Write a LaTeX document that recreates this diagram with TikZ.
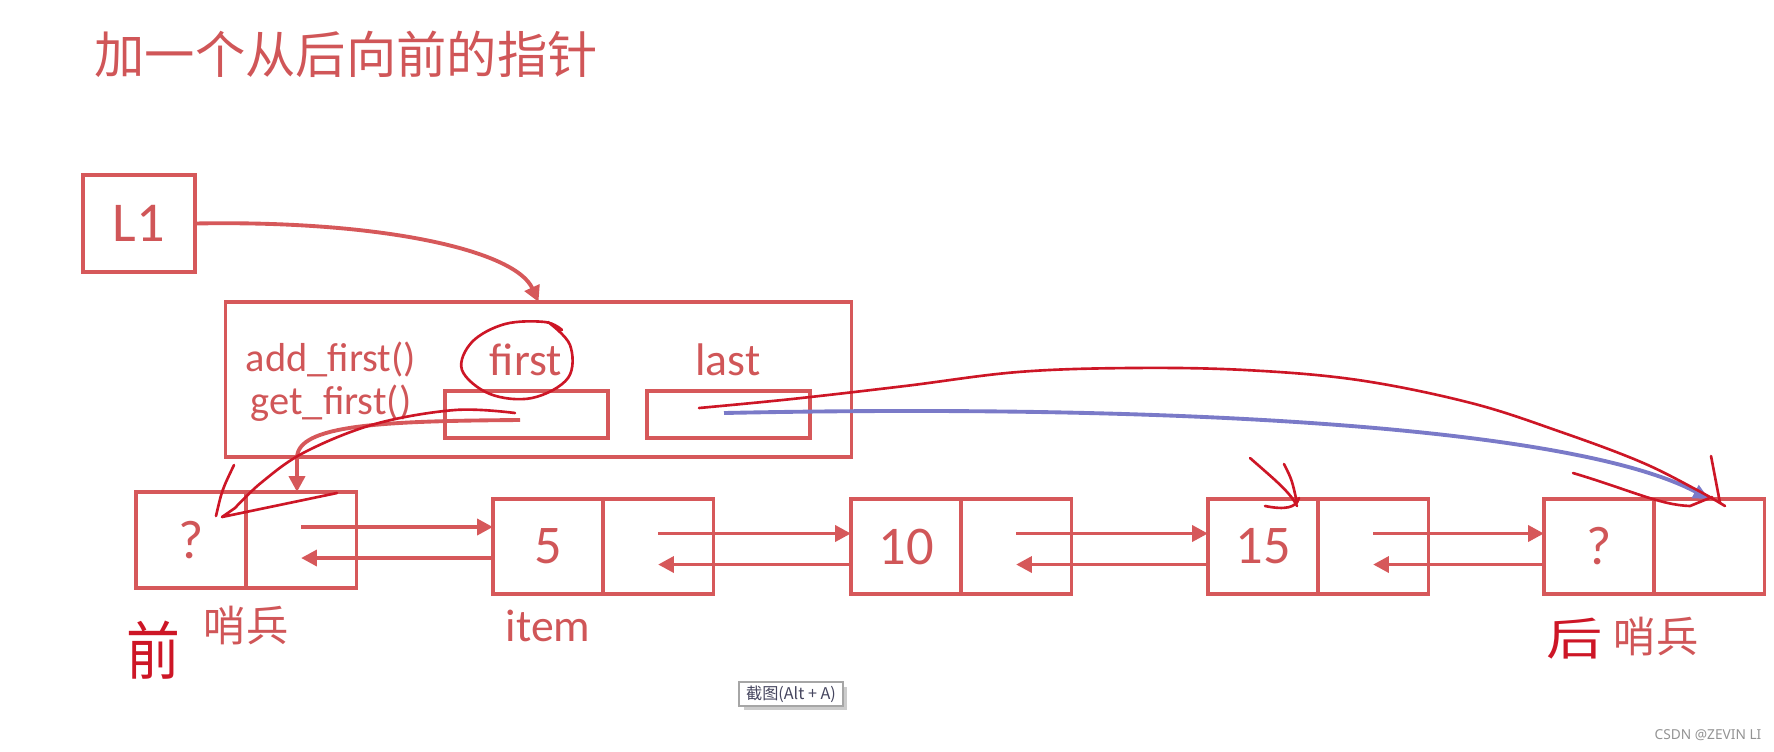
\documentclass[tikz,border=0pt]{standalone}
\usepackage{fontspec}
\setmainfont{Carlito}
\newfontfamily\cjk{Noto Sans CJK SC}
\newfontfamily\wmfont{Noto Sans}
\usetikzlibrary{arrows.meta}
\definecolor{boxred}{RGB}{214,88,90}
\definecolor{txtred}{RGB}{208,86,88}
\definecolor{handred}{RGB}{205,22,38}
\definecolor{handblue}{RGB}{122,122,200}
\begin{document}
\begin{tikzpicture}[x=0.01cm,y=-0.01cm,
  box/.style={draw=boxred,line width=0.9pt,inner sep=0pt,outer sep=0pt},
  cell/.style={box,minimum width=1.1cm,minimum height=0.95cm,text=txtred,font=\fontsize{15.5}{16}\selectfont},
  arr/.style={draw=boxred,line width=1.1pt,-{Triangle[length=4.5pt,width=4.5pt]}},
  hand/.style={draw=handred,line width=0.75pt,line cap=round,line join=round},
  bluearr/.style={draw=handblue,line width=1.1pt,-{Triangle[length=4.5pt,width=4pt]}},
  lbl/.style={text=txtred,inner sep=0pt}]
\useasboundingbox (0,0) rectangle (1774,751);
% title
\node[lbl,anchor=west,font=\cjk\fontsize{14.3}{15}\selectfont] (title) at (94,54) {加一个从后向前的指针};
% L1
\node[box,minimum width=1.12cm,minimum height=0.97cm,text=txtred,font=\fontsize{16}{17}\selectfont] (L1) at (139,223.5) {L1};
% big box
\node[box,minimum width=6.25cm,minimum height=1.55cm] (big) at (538.5,379.5) {};
\node[box,minimum width=1.63cm,minimum height=0.47cm] (fbox) at (526.5,414.5) {};
\node[box,minimum width=1.63cm,minimum height=0.47cm] (lbox) at (728.5,414.5) {};
\node[lbl,anchor=west,font=\fontsize{11.5}{12}\selectfont] (add) at (245,360) {add\_first()};
\node[lbl,anchor=west,font=\fontsize{11.5}{12}\selectfont] (get) at (250,403) {get\_first()};
\node[lbl,font=\fontsize{13}{14}\selectfont] (firstlbl) at (526,360) {first};
\node[lbl,font=\fontsize{13}{14}\selectfont] (lastlbl) at (728,360) {last};
% list nodes
\node[cell,minimum height=0.96cm] (n0v) at (191,540) {?};
\node[cell,anchor=west,minimum height=0.96cm] (n0p) at (n0v.east) {};
\node[cell] (n1v) at (548,546.5) {5};
\node[cell,anchor=west] (n1p) at (n1v.east) {};
\node[cell] (n2v) at (906,546.5) {10};
\node[cell,anchor=west] (n2p) at (n2v.east) {};
\node[cell] (n3v) at (1263,546.5) {15};
\node[cell,anchor=west] (n3p) at (n3v.east) {};
\node[cell] (n4v) at (1599,546.5) {?};
\node[cell,anchor=west] (n4p) at (n4v.east) {};
% labels under nodes
\node[lbl,font=\cjk\fontsize{12}{13}\selectfont] (s0) at (246,626) {哨兵};
\node[lbl,font=\fontsize{13}{14}\selectfont] (item) at (548,626) {item};
\node[lbl,font=\cjk\fontsize{12}{13}\selectfont] (s4) at (1656,637) {哨兵};
% links between nodes
\foreach \a/\b in {n0p/n1v,n1p/n2v,n2p/n3v,n3p/n4v}{
  \coordinate (t) at ([yshift=0.13cm]\a.center);
  \coordinate (u) at ([yshift=-0.18cm]\a.center);
  \draw[arr] (t) -- (t -| \b.west);
  \draw[arr] (u -| \b.west) -- (u);
}
% L1 -> big
\draw[arr] (L1.east) .. controls (380,220) and (515,250) .. (big.north);
% first -> n0
\coordinate (fp) at (520,420);
\coordinate (fe) at (297,492);
\draw[arr] (fp) .. controls (380,421) and (297,425) .. (297,458) -- (fe);
% blue last -> n4
\coordinate (lp) at (724,413);
\draw[bluearr] (lp) .. controls (1200,403) and (1580,430) .. (n4p.north);
% hand-drawn annotations
\draw[hand] plot[smooth,tension=0.6] coordinates {(548,322) (570,345) (568,378) (532,398) (490,394) (462,370) (472,342) (505,324) (545,322) (562,330)};
\draw[hand] plot[smooth,tension=0.6] coordinates {(515,413) (455,410) (375,424) (305,452) (262,482) (235,508)} -- (222,517) -- (337,493);
\draw[hand] (234,465) .. controls (222,490) .. (216,516);
\coordinate (lh) at (699,408);
\draw[hand] plot[smooth,tension=0.6] coordinates {(lh) (792,399) (905,386) (1018,372) (1131,368) (1245,370) (1358,380) (1471,403) (1561,432) (1641,462) (1697,490) (1725,506)};
\draw[hand] (1711,456) .. controls (1716,480) .. (1720,503);
\draw[hand] (1573,473) .. controls (1630,490) and (1660,505) .. (1690,506) -- (1712,497);
\draw[hand] (1250,458) .. controls (1275,480) and (1290,492) .. (1297,506);
\draw[hand] (1284,464) .. controls (1292,480) .. (1297,503);
\draw[hand] (1265,506) .. controls (1285,510) and (1296,508) .. (1299,498);
\node[text=handred,inner sep=0pt,font=\cjk\fontsize{18}{19}\selectfont,xscale=0.85] (qian) at (153,650) {前};
\node[text=handred,inner sep=0pt,font=\cjk\fontsize{16}{17}\selectfont,yscale=0.8] (hou) at (1575,639) {后};
% screenshot artifacts
\fill[gray!40] (744,687) rectangle (847,710);
\node[draw=gray!70,fill=white,line width=0.6pt,inner sep=0pt,minimum width=1.04cm,minimum height=0.24cm,text={rgb,255:red,70;green,70;blue,95},font=\cjk\fontsize{4.6}{5}\selectfont] (tip) at (791,694) {截图(Alt + A)};
\node[text=gray!85,inner sep=0pt,font=\wmfont\fontsize{3.9}{4}\selectfont] (wm) at (1708,735) {CSDN @ZEVIN LI};
\end{tikzpicture}
\end{document}
